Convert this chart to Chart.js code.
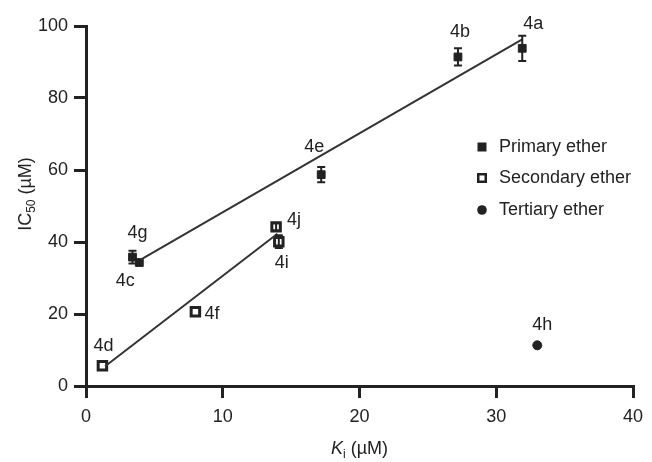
<!DOCTYPE html>
<html>
<head>
<meta charset="utf-8">
<script src="https://cdn.jsdelivr.net/npm/chart.js@4/dist/chart.umd.min.js"></script>
<style>
  html, body { margin: 0; padding: 0; background: #fff; }
  #wrap { width: 652px; height: 462px; }
</style>
</head>
<body>
<div id="wrap"><canvas id="ic50Chart" width="652" height="462"></canvas></div>
<script>
// data
const primaryNames = ["4a", "4b", "4e", "4g", "4c"];
const primaryKi = [31.9, 27.2, 17.2, 3.4, 3.9];
const primaryIC50 = [93.8, 91.4, 58.7, 35.8, 34.3];
const primaryErr = [3.5, 2.4, 2.1, 1.8, 0];

const secondaryNames = ["4d", "4f", "4j", "4i"];
const secondaryKi = [1.2, 8.0, 13.9, 14.1];
const secondaryIC50 = [5.6, 20.6, 44.2, 40.1];
const secondaryErr = [0, 0, 1.0, 1.8];

const tertiaryNames = ["4h"];
const tertiaryKi = [33.0];
const tertiaryIC50 = [11.3];

// fitted lines (end points)
const fitPrimaryKi = [4.0, 31.9];
const fitPrimaryIC50 = [35.1, 96.3];
const fitSecondaryKi = [1.4, 14.0];
const fitSecondaryIC50 = [5.5, 42.3];

const xTicks = [0, 10, 20, 30, 40];
const yTicks = [0, 20, 40, 60, 80, 100];

const ink = "#222";
const font = "'Liberation Sans', Arial, Helvetica, sans-serif";

function toPoints(xs, ys) {
  return xs.map((x, i) => ({ x: x, y: ys[i] }));
}

// label offsets (px) from each point
const labelOffsets = {
  "4a": [11, -24, "center"], "4b": [2, -25, "center"], "4e": [-7, -28, "center"],
  "4g": [5, -24, "center"], "4c": [-14, 19, "center"], "4d": [1, -20, "center"],
  "4f": [9, 2, "left"], "4j": [11, -7, "left"], "4i": [3, 21, "center"],
  "4h": [5, -20, "center"]
};

const extras = {
  id: "extras",
  afterDatasetsDraw(chart) {
    const ctx = chart.ctx;
    const xs = chart.scales.x, ys = chart.scales.y;
    ctx.save();
    // error bars
    ctx.strokeStyle = ink;
    ctx.lineWidth = 2;
    const bars = (kx, ky, ke) => {
      kx.forEach((x, i) => {
        if (!ke[i]) return;
        const px = xs.getPixelForValue(x);
        const top = ys.getPixelForValue(ky[i] + ke[i]);
        const bot = ys.getPixelForValue(ky[i] - ke[i]);
        ctx.beginPath();
        ctx.moveTo(px, top); ctx.lineTo(px, bot);
        ctx.moveTo(px - 4, top); ctx.lineTo(px + 4, top);
        ctx.moveTo(px - 4, bot); ctx.lineTo(px + 4, bot);
        ctx.stroke();
      });
    };
    bars(primaryKi, primaryIC50, primaryErr);
    bars(secondaryKi, secondaryIC50, secondaryErr);

    // point labels
    ctx.fillStyle = ink;
    ctx.font = "18px " + font;
    ctx.textBaseline = "middle";
    const labels = (names, kx, ky) => {
      names.forEach((n, i) => {
        const o = labelOffsets[n];
        ctx.textAlign = o[2];
        ctx.fillText(n, xs.getPixelForValue(kx[i]) + o[0], ys.getPixelForValue(ky[i]) + o[1]);
      });
    };
    labels(primaryNames, primaryKi, primaryIC50);
    labels(secondaryNames, secondaryKi, secondaryIC50);
    labels(tertiaryNames, tertiaryKi, tertiaryIC50);

    // legend
    const lx = 482, rows = [147, 178, 210];
    ctx.fillRect(lx - 4.5, rows[0] - 4.5, 9, 9);
    ctx.lineWidth = 2.5;
    ctx.strokeRect(lx - 3.75, rows[1] - 3.75, 7.5, 7.5);
    ctx.beginPath(); ctx.arc(lx, rows[2], 4.8, 0, Math.PI * 2); ctx.fill();
    ctx.textAlign = "left";
    ctx.fillText("Primary ether", 499, rows[0]);
    ctx.fillText("Secondary ether", 499, rows[1]);
    ctx.fillText("Tertiary ether", 499, rows[2]);

    // x axis title: K(i) (µM)
    const cx = (chart.chartArea.left + chart.chartArea.right) / 2;
    const ty = 448;
    ctx.textBaseline = "alphabetic";
    const partK = "K", partI = "i", partRest = " (µM)";
    ctx.font = "italic 18px " + font;
    const wK = ctx.measureText(partK).width;
    ctx.font = "12px " + font;
    const wI = ctx.measureText(partI).width;
    ctx.font = "18px " + font;
    const wR = ctx.measureText(partRest).width;
    let sx = cx - (wK + wI + wR) / 2;
    ctx.font = "italic 18px " + font;
    ctx.fillText(partK, sx, ty + 6); sx += wK;
    ctx.font = "12px " + font;
    ctx.fillText(partI, sx, ty + 10); sx += wI;
    ctx.font = "18px " + font;
    ctx.fillText(partRest, sx, ty + 6);

    // y axis title: IC50 (µM)
    ctx.translate(25, (chart.chartArea.top + chart.chartArea.bottom) / 2 - 12);
    ctx.rotate(-Math.PI / 2);
    ctx.font = "18px " + font;
    const wIC = ctx.measureText("IC").width;
    ctx.font = "12px " + font;
    const w50 = ctx.measureText("50").width;
    ctx.font = "18px " + font;
    const wU = ctx.measureText(" (µM)").width;
    let yx = -(wIC + w50 + wU) / 2;
    ctx.fillText("IC", yx, 6); yx += wIC;
    ctx.font = "12px " + font;
    ctx.fillText("50", yx, 10); yx += w50;
    ctx.font = "18px " + font;
    ctx.fillText(" (µM)", yx, 6);
    ctx.restore();
  }
};

new Chart(document.getElementById("ic50Chart"), {
  type: "scatter",
  data: {
    datasets: [
      {
        label: "Primary ether fit",
        data: toPoints(fitPrimaryKi, fitPrimaryIC50),
        showLine: true,
        borderColor: "#333",
        borderWidth: 2,
        pointRadius: 0,
      },
      {
        label: "Secondary ether fit",
        data: toPoints(fitSecondaryKi, fitSecondaryIC50),
        showLine: true,
        borderColor: "#333",
        borderWidth: 2,
        pointRadius: 0,
      },
      {
        label: "Primary ether",
        data: toPoints(primaryKi, primaryIC50),
        pointStyle: "rect",
        pointRadius: 5.5,
        backgroundColor: ink,
        borderColor: ink,
        borderWidth: 1,
      },
      {
        label: "Secondary ether",
        data: toPoints(secondaryKi, secondaryIC50),
        pointStyle: "rect",
        pointRadius: 6,
        backgroundColor: "#fff",
        borderColor: ink,
        borderWidth: 3,
      },
      {
        label: "Tertiary ether",
        data: toPoints(tertiaryKi, tertiaryIC50),
        pointStyle: "circle",
        pointRadius: 4.5,
        backgroundColor: ink,
        borderColor: ink,
        borderWidth: 1,
      },
    ],
  },
  options: {
    responsive: false,
    animation: false,
    layout: { padding: { top: 26, right: 19, left: 0, bottom: 0 } },
    plugins: {
      legend: { display: false },
      tooltip: { enabled: false },
    },
    scales: {
      x: {
        type: "linear",
        min: 0,
        max: 40,
        afterBuildTicks: (s) => { s.ticks = xTicks.map((v) => ({ value: v })); },
        afterFit: (s) => { s.height = 76; },
        ticks: { color: ink, font: { size: 18, family: font }, padding: 8 },
        grid: { drawOnChartArea: false, tickLength: 12, lineWidth: 3, color: ink },
        border: { width: 3, color: ink },
      },
      y: {
        min: 0,
        max: 100,
        afterBuildTicks: (s) => { s.ticks = yTicks.map((v) => ({ value: v })); },
        afterFit: (s) => { s.width = 86; },
        ticks: { color: ink, font: { size: 18, family: font }, padding: 6 },
        grid: { drawOnChartArea: false, tickLength: 12, lineWidth: 3, color: ink },
        border: { width: 3, color: ink },
      },
    },
  },
  plugins: [extras],
});
</script>
</body>
</html>
